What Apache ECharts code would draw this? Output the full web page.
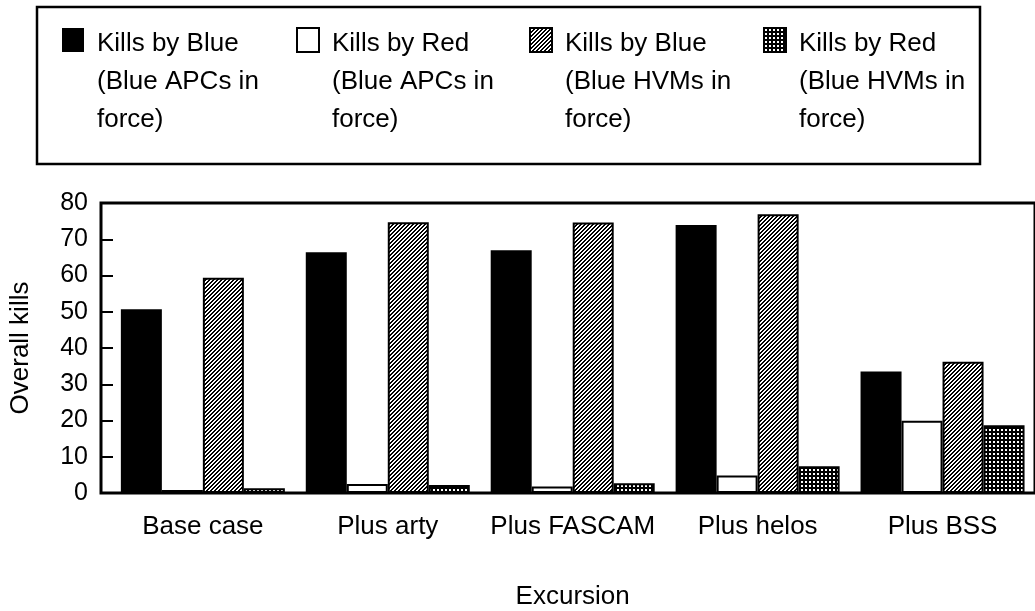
<!DOCTYPE html>
<html>
<head>
<meta charset="utf-8">
<script src="https://cdn.jsdelivr.net/npm/echarts@6/dist/echarts.min.js"></script>
<style>
  html, body { margin: 0; padding: 0; background: #fff; }
  #chart { width: 1035px; height: 611px; }
</style>
</head>
<body>
<div id="chart"></div>
<script>
// Overall kills per excursion, four force/side combinations
const categories = ['Base case', 'Plus arty', 'Plus FASCAM', 'Plus helos', 'Plus BSS'];
const killsByBlueAPC = [50.7, 66.4, 67.0, 73.9, 33.5];
const killsByRedAPC  = [0.8, 2.5, 1.8, 4.8, 19.9];
const killsByBlueHVM = [59.4, 74.7, 74.6, 76.9, 36.2];
const killsByRedHVM  = [1.3, 2.2, 2.7, 7.4, 18.7];
const seriesNames = [
  'Kills by Blue (Blue APCs in force)',
  'Kills by Red (Blue APCs in force)',
  'Kills by Blue (Blue HVMs in force)',
  'Kills by Red (Blue HVMs in force)'
];
const legendLines = [
  ['Kills by Blue', '(Blue APCs in', 'force)'],
  ['Kills by Red', '(Blue APCs in', 'force)'],
  ['Kills by Blue', '(Blue HVMs in', 'force)'],
  ['Kills by Red', '(Blue HVMs in', 'force)']
];
const yTicks = { min: 0, max: 80, interval: 10 };

const FONT = '"Liberation Sans", Arial, Helvetica, sans-serif';

// Fill textures: diagonal hatch and dotted black
function makeTile(size, painter) {
  const c = document.createElement('canvas');
  c.width = size; c.height = size;
  const g = c.getContext('2d');
  painter(g, size);
  return c;
}
const hatchTile = makeTile(4, (g, n) => {
  g.fillStyle = '#fff'; g.fillRect(0, 0, n, n);
  g.fillStyle = '#000';
  for (let x = 0; x < n; x++) for (let y = 0; y < n; y++) {
    if ((x + y) % 4 < 2) g.fillRect(x, y, 1, 1);
  }
});
const dotTile = makeTile(4, (g, n) => {
  g.fillStyle = '#000'; g.fillRect(0, 0, n, n);
  g.fillStyle = '#fff'; g.fillRect(1, 1, 2, 2);
});
const hatchFill = { image: hatchTile, repeat: 'repeat' };
const dotFill = { image: dotTile, repeat: 'repeat' };

const styles = [
  { color: '#000', borderColor: '#000', borderWidth: 0 },
  { color: '#fff', borderColor: '#000', borderWidth: 2 },
  { color: hatchFill, borderColor: '#000', borderWidth: 2 },
  { color: dotFill, borderColor: '#000', borderWidth: 2 }
];
const values = [killsByBlueAPC, killsByRedAPC, killsByBlueHVM, killsByRedHVM];

// One legend block per series; two spacer lines above the text keep its
// first line level with the swatch.
const legendLeft = [62, 296, 529, 763];
const legends = seriesNames.map((name, i) => ({
  data: [name],
  left: legendLeft[i],
  top: -51,
  padding: 0,
  orient: 'horizontal',
  selectedMode: false,
  itemWidth: 22,
  itemHeight: 24,
  icon: 'rect',
  formatter: () => ['{g| }', '{g| }'].concat(legendLines[i].map(s => '{t|' + s + '}')).join('\n'),
  textStyle: {
    fontFamily: FONT, fontSize: 26, color: '#000', padding: [0, 0, 0, 8],
    rich: {
      g: { fontFamily: FONT, fontSize: 26, lineHeight: 42 },
      t: { fontFamily: FONT, fontSize: 26, lineHeight: 38, color: '#000' }
    }
  }
}));

const chart = echarts.init(document.getElementById('chart'), null, { renderer: 'canvas' });
chart.setOption({
  animation: false,
  backgroundColor: '#fff',
  legend: legends,
  graphic: [{
    type: 'rect',
    shape: { x: 37, y: 7, width: 943, height: 157 },
    style: { fill: 'none', stroke: '#000', lineWidth: 2.5 },
    silent: true
  }],
  grid: [
    { left: 101, right: -12, top: 203, bottom: 118, show: true, borderColor: '#000', borderWidth: 3, backgroundColor: 'transparent' },
    { left: 110.4, right: -1.6, top: 203, bottom: 118 }
  ],
  xAxis: [
    { gridIndex: 0, type: 'value', show: false, min: 0, max: 1 },
    {
      gridIndex: 1, type: 'category', data: categories,
      axisLine: { show: false }, axisTick: { show: false },
      axisLabel: { interval: 0, fontFamily: FONT, fontSize: 26, color: '#000', margin: 21 },
      name: 'Excursion', nameLocation: 'middle', nameGap: 91,
      nameTextStyle: { fontFamily: FONT, fontSize: 26, color: '#000' }
    }
  ],
  yAxis: [
    {
      gridIndex: 0, type: 'value', min: yTicks.min, max: yTicks.max, interval: yTicks.interval,
      axisLine: { show: true, lineStyle: { color: '#000', width: 2 } },
      axisTick: { show: true, inside: true, length: 12, lineStyle: { color: '#000', width: 2 } },
      axisLabel: { fontFamily: FONT, fontSize: 25, color: '#000', margin: 13 },
      splitLine: { show: false },
      name: 'Overall kills', nameLocation: 'middle', nameGap: 67,
      nameTextStyle: { fontFamily: FONT, fontSize: 26, color: '#000' }
    },
    { gridIndex: 1, type: 'value', min: yTicks.min, max: yTicks.max, show: false, splitLine: { show: false } }
  ],
  series: seriesNames.map((name, i) => ({
    name: name,
    type: 'bar',
    xAxisIndex: 1,
    yAxisIndex: 1,
    data: values[i],
    barWidth: 41,
    barGap: '0%',
    itemStyle: styles[i],
    emphasis: { disabled: true }
  }))
});
</script>
</body>
</html>
